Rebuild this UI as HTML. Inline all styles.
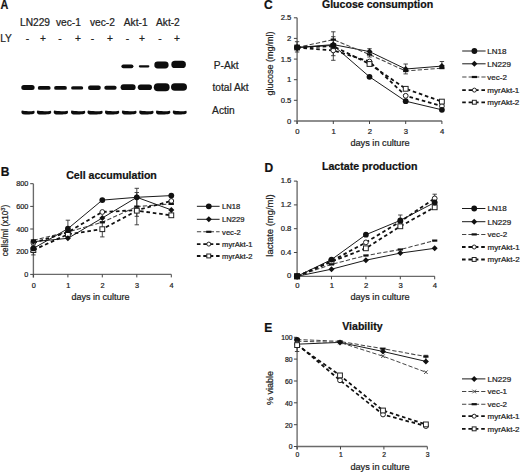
<!DOCTYPE html><html><head><meta charset="utf-8"><style>html,body{margin:0;padding:0;background:#fff;}svg{display:block;}text{fill:#222;stroke:#222;stroke-width:.22px}text.b{font-weight:bold;fill:#111;stroke:#111}text.e{text-anchor:end}text.m{text-anchor:middle}</style></head><body>
<svg width="520" height="472" viewBox="0 0 520 472" font-family="Liberation Sans">
<defs><filter id="bl" x="-20%" y="-50%" width="140%" height="200%"><feGaussianBlur stdDeviation="0.45"/></filter></defs>
<rect width="520" height="472" fill="#fff"/>
<text x="0.6" y="8.7" font-size="12.0" class="b" transform="scale(0.9,1)">A</text>
<text x="20.0" y="25.7" font-size="10.2">LN229</text>
<text x="56.0" y="25.7" font-size="10.2">vec-1</text>
<text x="90.0" y="25.7" font-size="10.2">vec-2</text>
<text x="123.8" y="25.7" font-size="10.2">Akt-1</text>
<text x="156.0" y="25.7" font-size="10.2">Akt-2</text>
<text x="0.2" y="42.0" font-size="10.2">LY</text>
<text x="27.5" y="41.6" font-size="10.2" class="m">-</text>
<text x="43.0" y="41.6" font-size="10.2" class="m">+</text>
<text x="60.0" y="41.6" font-size="10.2" class="m">-</text>
<text x="78.0" y="41.6" font-size="10.2" class="m">+</text>
<text x="92.5" y="41.6" font-size="10.2" class="m">-</text>
<text x="110.0" y="41.6" font-size="10.2" class="m">+</text>
<text x="127.5" y="41.6" font-size="10.2" class="m">-</text>
<text x="142.0" y="41.6" font-size="10.2" class="m">+</text>
<text x="160.0" y="41.6" font-size="10.2" class="m">-</text>
<text x="177.0" y="41.6" font-size="10.2" class="m">+</text>
<text x="213.8" y="68.8" font-size="10.2">P-Akt</text>
<text x="212.4" y="90.8" font-size="10.2">total Akt</text>
<text x="212.1" y="113.6" font-size="10.2">Actin</text>
<g filter="url(#bl)" fill="#0d0d0d">
<rect x="21.3" y="85.1" width="13.3" height="5.0" rx="2.5"/>
<rect x="37.8" y="86.0" width="12.8" height="3.8" rx="1.9"/>
<rect x="54.1" y="86.0" width="12.8" height="3.8" rx="1.9"/>
<rect x="71.1" y="86.2" width="12.1" height="3.4" rx="1.7"/>
<rect x="88.0" y="85.5" width="12.8" height="4.5" rx="2.2"/>
<rect x="104.3" y="85.8" width="12.3" height="4.0" rx="2.0"/>
<rect x="120.6" y="84.2" width="15.0" height="5.9" rx="3.0"/>
<rect x="137.8" y="84.5" width="14.2" height="5.6" rx="2.8"/>
<rect x="153.8" y="83.2" width="15.8" height="8.0" rx="4.0"/>
<rect x="171.0" y="83.2" width="16.0" height="7.6" rx="3.8"/>
<rect x="121.4" y="64.4" width="12.0" height="3.8" rx="1.9"/>
<rect x="138.8" y="65.2" width="10.6" height="2.2" rx="1.1"/>
<rect x="154.3" y="61.6" width="14.3" height="6.8" rx="3.4"/>
<rect x="171.3" y="60.7" width="14.6" height="7.4" rx="3.7"/>
<path d="M21.9 110.6 C24.6 111.4 31.4 111.4 34.1 110.7 C35.0 111.6 34.8 113.8 33.2 114.1 C30.4 114.7 25.6 114.7 22.8 114.2 C21.2 113.8 21.0 111.6 21.9 110.6 Z"/>
<path d="M37.4 110.6 C40.1 111.4 48.0 111.4 50.7 110.7 C51.6 111.6 51.4 113.8 49.8 114.1 C47.0 114.7 41.1 114.7 38.3 114.2 C36.7 113.8 36.5 111.6 37.4 110.6 Z"/>
<path d="M54.2 110.6 C56.9 111.4 64.8 111.4 67.5 110.7 C68.4 111.6 68.2 113.8 66.6 114.1 C63.8 114.7 57.9 114.7 55.1 114.2 C53.5 113.8 53.3 111.6 54.2 110.6 Z"/>
<path d="M71.5 110.6 C74.2 111.4 82.0 111.4 84.7 110.7 C85.6 111.6 85.4 113.8 83.8 114.1 C81.0 114.7 75.2 114.7 72.4 114.2 C70.8 113.8 70.6 111.6 71.5 110.6 Z"/>
<path d="M88.0 110.6 C90.7 111.4 99.4 111.4 102.1 110.7 C103.0 111.6 102.8 113.8 101.2 114.1 C98.4 114.7 91.7 114.7 88.9 114.2 C87.3 113.8 87.1 111.6 88.0 110.6 Z"/>
<path d="M105.5 110.6 C108.2 111.4 116.0 111.4 118.7 110.7 C119.6 111.6 119.4 113.8 117.8 114.1 C115.0 114.7 109.2 114.7 106.4 114.2 C104.8 113.8 104.6 111.6 105.5 110.6 Z"/>
<path d="M122.4 110.6 C125.1 111.4 133.3 111.4 136.0 110.7 C136.9 111.6 136.7 113.8 135.1 114.1 C132.3 114.7 126.1 114.7 123.3 114.2 C121.7 113.8 121.5 111.6 122.4 110.6 Z"/>
<path d="M139.7 110.6 C142.4 111.4 150.3 111.4 153.0 110.7 C153.9 111.6 153.7 113.8 152.1 114.1 C149.3 114.7 143.4 114.7 140.6 114.2 C139.0 113.8 138.8 111.6 139.7 110.6 Z"/>
<path d="M156.5 110.6 C159.2 111.4 167.1 111.4 169.8 110.7 C170.7 111.6 170.5 113.8 168.9 114.1 C166.1 114.7 160.2 114.7 157.4 114.2 C155.8 113.8 155.6 111.6 156.5 110.6 Z"/>
<path d="M173.3 110.6 C176.0 111.4 183.5 111.4 186.2 110.7 C187.1 111.6 186.9 113.8 185.3 114.1 C182.5 114.7 177.0 114.7 174.2 114.2 C172.6 113.8 172.4 111.6 173.3 110.6 Z"/>
</g>
<path d="M33.4 183.7L33.4 277.4M33.4 274.4L171.3 274.4" stroke="#6a6a6a" stroke-width="1.35" fill="none"/>
<path d="M30.2 274.4L33.4 274.4" stroke="#444" stroke-width="1"/>
<text x="28.4" y="276.9" font-size="7.3" class="e">0</text>
<path d="M30.2 251.7L33.4 251.7" stroke="#444" stroke-width="1"/>
<text x="28.4" y="254.2" font-size="7.3" class="e">200</text>
<path d="M30.2 229.0L33.4 229.0" stroke="#444" stroke-width="1"/>
<text x="28.4" y="231.5" font-size="7.3" class="e">400</text>
<path d="M30.2 206.4L33.4 206.4" stroke="#444" stroke-width="1"/>
<text x="28.4" y="208.9" font-size="7.3" class="e">600</text>
<path d="M30.2 183.7L33.4 183.7" stroke="#444" stroke-width="1"/>
<text x="28.4" y="186.2" font-size="7.3" class="e">800</text>
<path d="M33.4 274.4L33.4 277.4" stroke="#444" stroke-width="1"/>
<text x="33.7" y="287.7" font-size="7.3" class="m">0</text>
<path d="M67.9 274.4L67.9 277.4" stroke="#444" stroke-width="1"/>
<text x="68.2" y="287.7" font-size="7.3" class="m">1</text>
<path d="M102.3 274.4L102.3 277.4" stroke="#444" stroke-width="1"/>
<text x="102.6" y="287.7" font-size="7.3" class="m">2</text>
<path d="M136.8 274.4L136.8 277.4" stroke="#444" stroke-width="1"/>
<text x="137.1" y="287.7" font-size="7.3" class="m">3</text>
<path d="M171.3 274.4L171.3 277.4" stroke="#444" stroke-width="1"/>
<text x="171.6" y="287.7" font-size="7.3" class="m">4</text>
<text x="71.6" y="300.2" font-size="9.0">days in culture</text>
<text transform="translate(7.7,230.5) rotate(-90)" font-size="8.2" text-anchor="middle" fill="#222">cells/ml (x10<tspan font-size="5.5" dy="-3">3</tspan><tspan dy="3">)</tspan></text>
<text x="66.2" y="179.3" font-size="10.6" class="b">Cell accumulation</text>
<text x="0.8" y="176.0" font-size="12.0" class="b">B</text>
<path d="M33.4 246.0L33.4 254.9M31.2 246.0L35.6 246.0M31.2 254.9L35.6 254.9" stroke="#333" stroke-width="0.9" fill="none"/>
<path d="M67.9 220.2L67.9 237.0M65.7 220.2L70.1 220.2M65.7 237.0L70.1 237.0" stroke="#333" stroke-width="0.9" fill="none"/>
<path d="M102.3 222.8L102.3 236.9M100.1 222.8L104.5 222.8M100.1 236.9L104.5 236.9" stroke="#333" stroke-width="0.9" fill="none"/>
<path d="M136.8 188.3L136.8 224.8M134.6 188.3L139.0 188.3M134.6 224.8L139.0 224.8" stroke="#333" stroke-width="0.9" fill="none"/>
<path d="M136.8 192.5L136.8 216.3M134.6 192.5L139.0 192.5M134.6 216.3L139.0 216.3" stroke="#333" stroke-width="0.9" fill="none"/>
<path d="M33.4 248.4L67.9 228.7L102.3 200.1L136.8 197.3L171.3 195.6" fill="none" stroke="#1a1a1a" stroke-width="1.0"/>
<path d="M33.4 241.7L67.9 238.3L102.3 218.0L136.8 197.3L171.3 209.9" fill="none" stroke="#1a1a1a" stroke-width="1.0"/>
<path d="M33.4 240.4L67.9 231.9L102.3 222.2L136.8 206.6L171.3 203.9" fill="none" stroke="#444" stroke-width="1.05" stroke-dasharray="4.3,2.1"/>
<path d="M33.4 242.9L67.9 232.2L102.3 212.0L136.8 210.2L171.3 201.0" fill="none" stroke="#111" stroke-width="1.8" stroke-dasharray="3.6,2.8"/>
<path d="M33.4 250.1L67.9 234.3L102.3 229.2L136.8 210.7L171.3 215.3" fill="none" stroke="#111" stroke-width="1.8" stroke-dasharray="3.6,2.8"/>
<circle cx="33.4" cy="242.9" r="2.4" fill="#fff" stroke="#222" stroke-width="1"/>
<circle cx="67.9" cy="232.2" r="2.4" fill="#fff" stroke="#222" stroke-width="1"/>
<circle cx="102.3" cy="212.0" r="2.4" fill="#fff" stroke="#222" stroke-width="1"/>
<circle cx="136.8" cy="210.2" r="2.4" fill="#fff" stroke="#222" stroke-width="1"/>
<circle cx="171.3" cy="201.0" r="2.4" fill="#fff" stroke="#222" stroke-width="1"/>
<rect x="31.0" y="247.7" width="4.8" height="4.8" fill="#fff" stroke="#222" stroke-width="1"/>
<rect x="65.5" y="231.9" width="4.8" height="4.8" fill="#fff" stroke="#222" stroke-width="1"/>
<rect x="99.9" y="226.8" width="4.8" height="4.8" fill="#fff" stroke="#222" stroke-width="1"/>
<rect x="134.4" y="208.3" width="4.8" height="4.8" fill="#fff" stroke="#222" stroke-width="1"/>
<rect x="168.9" y="212.9" width="4.8" height="4.8" fill="#fff" stroke="#222" stroke-width="1"/>
<rect x="30.8" y="239.3" width="5.2" height="2.2" fill="#111"/>
<rect x="65.3" y="230.8" width="5.2" height="2.2" fill="#111"/>
<rect x="99.7" y="221.1" width="5.2" height="2.2" fill="#111"/>
<rect x="134.2" y="205.5" width="5.2" height="2.2" fill="#111"/>
<rect x="168.7" y="202.8" width="5.2" height="2.2" fill="#111"/>
<path d="M30.4 241.7L33.4 238.7L36.4 241.7L33.4 244.7Z" fill="#111"/>
<path d="M64.9 238.3L67.9 235.3L70.9 238.3L67.9 241.3Z" fill="#111"/>
<path d="M99.3 218.0L102.3 215.0L105.3 218.0L102.3 221.0Z" fill="#111"/>
<path d="M133.8 197.3L136.8 194.3L139.8 197.3L136.8 200.3Z" fill="#111"/>
<path d="M168.3 209.9L171.3 206.9L174.3 209.9L171.3 212.9Z" fill="#111"/>
<circle cx="33.4" cy="248.4" r="2.9" fill="#111"/>
<circle cx="67.9" cy="228.7" r="2.9" fill="#111"/>
<circle cx="102.3" cy="200.1" r="2.9" fill="#111"/>
<circle cx="136.8" cy="197.3" r="2.9" fill="#111"/>
<circle cx="171.3" cy="195.6" r="2.9" fill="#111"/>
<path d="M196.9 206.3L219.6 206.3" fill="none" stroke="#1a1a1a" stroke-width="1.0"/>
<circle cx="208.8" cy="206.3" r="2.9" fill="#111"/>
<text x="222.1" y="209.1" font-size="7.6">LN18</text>
<path d="M196.9 219.3L219.6 219.3" fill="none" stroke="#1a1a1a" stroke-width="1.0"/>
<path d="M205.8 219.3L208.8 216.3L211.8 219.3L208.8 222.3Z" fill="#111"/>
<text x="222.1" y="222.1" font-size="7.6">LN229</text>
<path d="M196.9 231.8L219.6 231.8" fill="none" stroke="#444" stroke-width="1.05" stroke-dasharray="4.3,2.1"/>
<rect x="206.2" y="230.7" width="5.2" height="2.2" fill="#111"/>
<text x="222.1" y="234.6" font-size="7.6">vec-2</text>
<path d="M196.9 244.1L219.6 244.1" fill="none" stroke="#111" stroke-width="1.8" stroke-dasharray="3.6,2.8"/>
<circle cx="208.8" cy="244.1" r="2.0" fill="#fff" stroke="#222" stroke-width="1"/>
<text x="222.1" y="246.9" font-size="7.6">myrAkt-1</text>
<path d="M196.9 256.0L219.6 256.0" fill="none" stroke="#111" stroke-width="1.8" stroke-dasharray="3.6,2.8"/>
<rect x="206.8" y="254.0" width="3.9" height="3.9" fill="#fff" stroke="#222" stroke-width="1"/>
<text x="222.1" y="258.8" font-size="7.6">myrAkt-2</text>
<path d="M297.1 17.8L297.1 124.0M297.1 121.0L441.9 121.0" stroke="#6a6a6a" stroke-width="1.35" fill="none"/>
<path d="M293.9 121.0L297.1 121.0" stroke="#444" stroke-width="1"/>
<text x="291.4" y="123.6" font-size="7.7" class="e">0</text>
<path d="M293.9 100.3L297.1 100.3" stroke="#444" stroke-width="1"/>
<text x="291.4" y="102.9" font-size="7.7" class="e">0.5</text>
<path d="M293.9 79.7L297.1 79.7" stroke="#444" stroke-width="1"/>
<text x="291.4" y="82.3" font-size="7.7" class="e">1</text>
<path d="M293.9 59.1L297.1 59.1" stroke="#444" stroke-width="1"/>
<text x="291.4" y="61.7" font-size="7.7" class="e">1.5</text>
<path d="M293.9 38.4L297.1 38.4" stroke="#444" stroke-width="1"/>
<text x="291.4" y="41.0" font-size="7.7" class="e">2</text>
<path d="M293.9 17.8L297.1 17.8" stroke="#444" stroke-width="1"/>
<text x="291.4" y="20.4" font-size="7.7" class="e">2.5</text>
<path d="M297.1 121.0L297.1 124.0" stroke="#444" stroke-width="1"/>
<text x="297.4" y="133.7" font-size="7.7" class="m">0</text>
<path d="M333.3 121.0L333.3 124.0" stroke="#444" stroke-width="1"/>
<text x="333.6" y="133.7" font-size="7.7" class="m">1</text>
<path d="M369.5 121.0L369.5 124.0" stroke="#444" stroke-width="1"/>
<text x="369.8" y="133.7" font-size="7.7" class="m">2</text>
<path d="M405.7 121.0L405.7 124.0" stroke="#444" stroke-width="1"/>
<text x="406.0" y="133.7" font-size="7.7" class="m">3</text>
<path d="M441.9 121.0L441.9 124.0" stroke="#444" stroke-width="1"/>
<text x="442.2" y="133.7" font-size="7.7" class="m">4</text>
<text x="350.4" y="146.2" font-size="9.2">days in culture</text>
<text transform="translate(272.8,63.4) rotate(-90)" font-size="9.0" text-anchor="middle" fill="#222">glucose (mg/ml)</text>
<text x="321.9" y="8.0" font-size="10.6" class="b">Glucose consumption</text>
<text x="264.0" y="9.2" font-size="12.0" class="b">C</text>
<path d="M297.1 41.7L297.1 52.0M294.9 41.7L299.3 41.7M294.9 52.0L299.3 52.0" stroke="#333" stroke-width="0.9" fill="none"/>
<path d="M333.3 31.8L333.3 60.3M331.1 31.8L335.5 31.8M331.1 60.3L335.5 60.3" stroke="#333" stroke-width="0.9" fill="none"/>
<path d="M333.3 36.7L333.3 55.7M331.1 36.7L335.5 36.7M331.1 55.7L335.5 55.7" stroke="#333" stroke-width="0.9" fill="none"/>
<path d="M369.5 48.7L369.5 57.0M367.3 48.7L371.7 48.7M367.3 57.0L371.7 57.0" stroke="#333" stroke-width="0.9" fill="none"/>
<path d="M405.7 64.0L405.7 73.9M403.5 64.0L407.9 64.0M403.5 73.9L407.9 73.9" stroke="#333" stroke-width="0.9" fill="none"/>
<path d="M441.9 61.5L441.9 68.5M439.7 61.5L444.1 61.5M439.7 68.5L444.1 68.5" stroke="#333" stroke-width="0.9" fill="none"/>
<path d="M297.1 47.5L333.3 45.4L369.5 76.8L405.7 101.2L441.9 109.8" fill="none" stroke="#1a1a1a" stroke-width="1.0"/>
<path d="M297.1 47.5L333.3 44.6L369.5 51.6L405.7 69.0L441.9 66.1" fill="none" stroke="#1a1a1a" stroke-width="1.0"/>
<path d="M297.1 47.5L333.3 39.6L369.5 54.5L405.7 71.0L441.9 68.1" fill="none" stroke="#444" stroke-width="1.05" stroke-dasharray="4.3,2.1"/>
<path d="M297.1 47.5L333.3 50.4L369.5 61.5L405.7 95.8L441.9 106.1" fill="none" stroke="#111" stroke-width="1.8" stroke-dasharray="3.6,2.8"/>
<path d="M297.1 47.5L333.3 46.2L369.5 64.0L405.7 88.8L441.9 101.6" fill="none" stroke="#111" stroke-width="1.8" stroke-dasharray="3.6,2.8"/>
<circle cx="297.1" cy="47.5" r="2.4" fill="#fff" stroke="#222" stroke-width="1"/>
<circle cx="333.3" cy="50.4" r="2.4" fill="#fff" stroke="#222" stroke-width="1"/>
<circle cx="369.5" cy="61.5" r="2.4" fill="#fff" stroke="#222" stroke-width="1"/>
<circle cx="405.7" cy="95.8" r="2.4" fill="#fff" stroke="#222" stroke-width="1"/>
<circle cx="441.9" cy="106.1" r="2.4" fill="#fff" stroke="#222" stroke-width="1"/>
<rect x="294.7" y="45.1" width="4.8" height="4.8" fill="#fff" stroke="#222" stroke-width="1"/>
<rect x="330.9" y="43.8" width="4.8" height="4.8" fill="#fff" stroke="#222" stroke-width="1"/>
<rect x="367.1" y="61.6" width="4.8" height="4.8" fill="#fff" stroke="#222" stroke-width="1"/>
<rect x="403.3" y="86.4" width="4.8" height="4.8" fill="#fff" stroke="#222" stroke-width="1"/>
<rect x="439.5" y="99.2" width="4.8" height="4.8" fill="#fff" stroke="#222" stroke-width="1"/>
<rect x="294.5" y="46.4" width="5.2" height="2.2" fill="#111"/>
<rect x="330.7" y="38.5" width="5.2" height="2.2" fill="#111"/>
<rect x="366.9" y="53.4" width="5.2" height="2.2" fill="#111"/>
<rect x="403.1" y="69.9" width="5.2" height="2.2" fill="#111"/>
<rect x="439.3" y="67.0" width="5.2" height="2.2" fill="#111"/>
<path d="M294.1 47.5L297.1 44.5L300.1 47.5L297.1 50.5Z" fill="#111"/>
<path d="M330.3 44.6L333.3 41.6L336.3 44.6L333.3 47.6Z" fill="#111"/>
<path d="M366.5 51.6L369.5 48.6L372.5 51.6L369.5 54.6Z" fill="#111"/>
<path d="M402.7 69.0L405.7 66.0L408.7 69.0L405.7 72.0Z" fill="#111"/>
<path d="M438.9 66.1L441.9 63.1L444.9 66.1L441.9 69.1Z" fill="#111"/>
<circle cx="297.1" cy="47.5" r="2.9" fill="#111"/>
<circle cx="333.3" cy="45.4" r="2.9" fill="#111"/>
<circle cx="369.5" cy="76.8" r="2.9" fill="#111"/>
<circle cx="405.7" cy="101.2" r="2.9" fill="#111"/>
<circle cx="441.9" cy="109.8" r="2.9" fill="#111"/>
<path d="M462.2 51.0L485.6 51.0" fill="none" stroke="#1a1a1a" stroke-width="1.0"/>
<circle cx="474.4" cy="51.0" r="2.9" fill="#111"/>
<text x="487.3" y="53.8" font-size="8.0">LN18</text>
<path d="M462.2 63.8L485.6 63.8" fill="none" stroke="#1a1a1a" stroke-width="1.0"/>
<path d="M471.4 63.8L474.4 60.8L477.4 63.8L474.4 66.8Z" fill="#111"/>
<text x="487.3" y="66.6" font-size="8.0">LN229</text>
<path d="M462.2 77.0L485.6 77.0" fill="none" stroke="#444" stroke-width="1.05" stroke-dasharray="4.3,2.1"/>
<rect x="471.8" y="75.9" width="5.2" height="2.2" fill="#111"/>
<text x="487.3" y="79.8" font-size="8.0">vec-2</text>
<path d="M462.2 90.1L485.6 90.1" fill="none" stroke="#111" stroke-width="1.8" stroke-dasharray="3.6,2.8"/>
<circle cx="474.4" cy="90.1" r="2.0" fill="#fff" stroke="#222" stroke-width="1"/>
<text x="487.3" y="92.9" font-size="8.0">myrAkt-1</text>
<path d="M462.2 102.3L485.6 102.3" fill="none" stroke="#111" stroke-width="1.8" stroke-dasharray="3.6,2.8"/>
<rect x="472.4" y="100.3" width="3.9" height="3.9" fill="#fff" stroke="#222" stroke-width="1"/>
<text x="487.3" y="105.1" font-size="8.0">myrAkt-2</text>
<path d="M297.1 181.1L297.1 279.3M297.1 276.3L434.7 276.3" stroke="#6a6a6a" stroke-width="1.35" fill="none"/>
<path d="M293.9 276.3L297.1 276.3" stroke="#444" stroke-width="1"/>
<text x="291.4" y="278.3" font-size="7.7" class="e">0</text>
<path d="M293.9 252.5L297.1 252.5" stroke="#444" stroke-width="1"/>
<text x="291.4" y="254.5" font-size="7.7" class="e">0.4</text>
<path d="M293.9 228.7L297.1 228.7" stroke="#444" stroke-width="1"/>
<text x="291.4" y="230.7" font-size="7.7" class="e">0.8</text>
<path d="M293.9 204.9L297.1 204.9" stroke="#444" stroke-width="1"/>
<text x="291.4" y="206.9" font-size="7.7" class="e">1.2</text>
<path d="M293.9 181.1L297.1 181.1" stroke="#444" stroke-width="1"/>
<text x="291.4" y="183.1" font-size="7.7" class="e">1.6</text>
<path d="M297.1 276.3L297.1 279.3" stroke="#444" stroke-width="1"/>
<text x="297.4" y="287.9" font-size="7.7" class="m">0</text>
<path d="M331.5 276.3L331.5 279.3" stroke="#444" stroke-width="1"/>
<text x="331.8" y="287.9" font-size="7.7" class="m">1</text>
<path d="M365.9 276.3L365.9 279.3" stroke="#444" stroke-width="1"/>
<text x="366.2" y="287.9" font-size="7.7" class="m">2</text>
<path d="M400.3 276.3L400.3 279.3" stroke="#444" stroke-width="1"/>
<text x="400.6" y="287.9" font-size="7.7" class="m">3</text>
<path d="M434.7 276.3L434.7 279.3" stroke="#444" stroke-width="1"/>
<text x="435.0" y="287.9" font-size="7.7" class="m">4</text>
<text x="350.4" y="300.2" font-size="9.2">days in culture</text>
<text transform="translate(272.9,225.5) rotate(-90)" font-size="9.45" text-anchor="middle" fill="#222">lactate (mg/ml)</text>
<text x="322.0" y="170.1" font-size="10.6" class="b">Lactate production</text>
<text x="264.6" y="171.5" font-size="12.0" class="b">D</text>
<path d="M400.3 215.0L400.3 225.7M398.1 215.0L402.5 215.0M398.1 225.7L402.5 225.7" stroke="#333" stroke-width="0.9" fill="none"/>
<path d="M434.7 194.2L434.7 202.5M432.5 194.2L436.9 194.2M432.5 202.5L436.9 202.5" stroke="#333" stroke-width="0.9" fill="none"/>
<path d="M297.1 276.3L331.5 259.6L365.9 234.7L400.3 220.4L434.7 202.5" fill="none" stroke="#1a1a1a" stroke-width="1.0"/>
<path d="M297.1 276.3L331.5 269.2L365.9 260.2L400.3 253.1L434.7 248.3" fill="none" stroke="#1a1a1a" stroke-width="1.0"/>
<path d="M297.1 276.3L331.5 264.4L365.9 255.5L400.3 249.5L434.7 240.6" fill="none" stroke="#444" stroke-width="1.05" stroke-dasharray="4.3,2.1"/>
<path d="M297.1 276.3L331.5 261.1L365.9 242.4L400.3 221.6L434.7 198.4" fill="none" stroke="#111" stroke-width="1.8" stroke-dasharray="3.6,2.8"/>
<path d="M297.1 276.3L331.5 261.7L365.9 248.3L400.3 226.3L434.7 207.3" fill="none" stroke="#111" stroke-width="1.8" stroke-dasharray="3.6,2.8"/>
<circle cx="297.1" cy="276.3" r="2.4" fill="#fff" stroke="#222" stroke-width="1"/>
<circle cx="331.5" cy="261.1" r="2.4" fill="#fff" stroke="#222" stroke-width="1"/>
<circle cx="365.9" cy="242.4" r="2.4" fill="#fff" stroke="#222" stroke-width="1"/>
<circle cx="400.3" cy="221.6" r="2.4" fill="#fff" stroke="#222" stroke-width="1"/>
<circle cx="434.7" cy="198.4" r="2.4" fill="#fff" stroke="#222" stroke-width="1"/>
<rect x="294.7" y="273.9" width="4.8" height="4.8" fill="#fff" stroke="#222" stroke-width="1"/>
<rect x="329.1" y="259.3" width="4.8" height="4.8" fill="#fff" stroke="#222" stroke-width="1"/>
<rect x="363.5" y="245.9" width="4.8" height="4.8" fill="#fff" stroke="#222" stroke-width="1"/>
<rect x="397.9" y="223.9" width="4.8" height="4.8" fill="#fff" stroke="#222" stroke-width="1"/>
<rect x="432.3" y="204.9" width="4.8" height="4.8" fill="#fff" stroke="#222" stroke-width="1"/>
<rect x="294.5" y="275.2" width="5.2" height="2.2" fill="#111"/>
<rect x="328.9" y="263.3" width="5.2" height="2.2" fill="#111"/>
<rect x="363.3" y="254.4" width="5.2" height="2.2" fill="#111"/>
<rect x="397.7" y="248.4" width="5.2" height="2.2" fill="#111"/>
<rect x="432.1" y="239.5" width="5.2" height="2.2" fill="#111"/>
<path d="M294.1 276.3L297.1 273.3L300.1 276.3L297.1 279.3Z" fill="#111"/>
<path d="M328.5 269.2L331.5 266.2L334.5 269.2L331.5 272.2Z" fill="#111"/>
<path d="M362.9 260.2L365.9 257.2L368.9 260.2L365.9 263.2Z" fill="#111"/>
<path d="M397.3 253.1L400.3 250.1L403.3 253.1L400.3 256.1Z" fill="#111"/>
<path d="M431.7 248.3L434.7 245.3L437.7 248.3L434.7 251.3Z" fill="#111"/>
<circle cx="297.1" cy="276.3" r="2.9" fill="#111"/>
<circle cx="331.5" cy="259.6" r="2.9" fill="#111"/>
<circle cx="365.9" cy="234.7" r="2.9" fill="#111"/>
<circle cx="400.3" cy="220.4" r="2.9" fill="#111"/>
<circle cx="434.7" cy="202.5" r="2.9" fill="#111"/>
<rect x="294.1" y="273.3" width="6.0" height="6.0" fill="#111"/>
<path d="M462.0 208.5L485.4 208.5" fill="none" stroke="#1a1a1a" stroke-width="1.0"/>
<circle cx="474.2" cy="208.5" r="2.9" fill="#111"/>
<text x="487.6" y="211.3" font-size="8.0">LN18</text>
<path d="M462.0 221.7L485.4 221.7" fill="none" stroke="#1a1a1a" stroke-width="1.0"/>
<path d="M471.2 221.7L474.2 218.7L477.2 221.7L474.2 224.7Z" fill="#111"/>
<text x="487.6" y="224.5" font-size="8.0">LN229</text>
<path d="M462.0 234.4L485.4 234.4" fill="none" stroke="#444" stroke-width="1.05" stroke-dasharray="4.3,2.1"/>
<rect x="471.6" y="233.3" width="5.2" height="2.2" fill="#111"/>
<text x="487.6" y="237.2" font-size="8.0">vec-2</text>
<path d="M462.0 247.0L485.4 247.0" fill="none" stroke="#111" stroke-width="1.8" stroke-dasharray="3.6,2.8"/>
<circle cx="474.2" cy="247.0" r="2.0" fill="#fff" stroke="#222" stroke-width="1"/>
<text x="487.6" y="249.8" font-size="8.0">myrAkt-1</text>
<path d="M462.0 259.5L485.4 259.5" fill="none" stroke="#111" stroke-width="1.8" stroke-dasharray="3.6,2.8"/>
<rect x="472.2" y="257.5" width="3.9" height="3.9" fill="#fff" stroke="#222" stroke-width="1"/>
<text x="487.6" y="262.3" font-size="8.0">myrAkt-2</text>
<path d="M297.1 337.3L297.1 449.5M297.1 446.5L427.3 446.5" stroke="#6a6a6a" stroke-width="1.35" fill="none"/>
<path d="M293.9 446.5L297.1 446.5" stroke="#444" stroke-width="1"/>
<text x="292.5" y="449.3" font-size="6.8" class="e">0</text>
<path d="M293.9 424.7L297.1 424.7" stroke="#444" stroke-width="1"/>
<text x="292.5" y="427.5" font-size="6.8" class="e">20</text>
<path d="M293.9 402.8L297.1 402.8" stroke="#444" stroke-width="1"/>
<text x="292.5" y="405.6" font-size="6.8" class="e">40</text>
<path d="M293.9 381.0L297.1 381.0" stroke="#444" stroke-width="1"/>
<text x="292.5" y="383.8" font-size="6.8" class="e">60</text>
<path d="M293.9 359.1L297.1 359.1" stroke="#444" stroke-width="1"/>
<text x="292.5" y="361.9" font-size="6.8" class="e">80</text>
<path d="M293.9 337.3L297.1 337.3" stroke="#444" stroke-width="1"/>
<text x="292.5" y="340.1" font-size="6.8" class="e">100</text>
<path d="M297.1 446.5L297.1 449.5" stroke="#444" stroke-width="1"/>
<text x="297.4" y="457.2" font-size="6.8" class="m">0</text>
<path d="M340.5 446.5L340.5 449.5" stroke="#444" stroke-width="1"/>
<text x="340.8" y="457.2" font-size="6.8" class="m">1</text>
<path d="M383.9 446.5L383.9 449.5" stroke="#444" stroke-width="1"/>
<text x="384.2" y="457.2" font-size="6.8" class="m">2</text>
<path d="M427.3 446.5L427.3 449.5" stroke="#444" stroke-width="1"/>
<text x="427.6" y="457.2" font-size="6.8" class="m">3</text>
<text x="350.4" y="469.5" font-size="9.2">days in culture</text>
<text transform="translate(273.1,388.0) rotate(-90)" font-size="9.0" text-anchor="middle" fill="#222">% viable</text>
<text x="342.2" y="329.8" font-size="10.6" class="b">Viability</text>
<text x="264.2" y="332.3" font-size="12.0" class="b">E</text>
<path d="M297.1 340.6L297.1 351.5M294.9 340.6L299.3 340.6M294.9 351.5L299.3 351.5" stroke="#333" stroke-width="0.9" fill="none"/>
<path d="M425.9 355.3L425.9 361.3M423.7 355.3L428.1 355.3M423.7 361.3L428.1 361.3" stroke="#333" stroke-width="0.9" fill="none"/>
<path d="M297.1 344.2L340.0 342.4L383.0 351.5L425.9 361.4" fill="none" stroke="#1a1a1a" stroke-width="1.0"/>
<path d="M297.1 341.2L340.0 342.5L383.0 356.2L425.9 372.2" fill="none" stroke="#444" stroke-width="1.0" stroke-dasharray="4.3,2.1"/>
<path d="M297.1 339.5L340.0 341.4L383.0 348.7L425.9 356.6" fill="none" stroke="#444" stroke-width="1.05" stroke-dasharray="4.3,2.1"/>
<path d="M297.1 344.0L340.0 380.3L383.0 414.5L425.9 426.1" fill="none" stroke="#111" stroke-width="1.8" stroke-dasharray="3.6,2.8"/>
<path d="M297.1 345.1L340.0 375.4L383.0 410.5L425.9 424.4" fill="none" stroke="#111" stroke-width="1.8" stroke-dasharray="3.6,2.8"/>
<circle cx="297.1" cy="339.8" r="2.9" fill="#111"/>
<path d="M295.3 339.4L298.9 343.0M295.3 343.0L298.9 339.4" stroke="#333" stroke-width="0.9"/>
<path d="M338.2 340.7L341.8 344.3M338.2 344.3L341.8 340.7" stroke="#333" stroke-width="0.9"/>
<path d="M381.2 354.4L384.8 358.0M381.2 358.0L384.8 354.4" stroke="#333" stroke-width="0.9"/>
<path d="M424.1 370.4L427.7 374.0M424.1 374.0L427.7 370.4" stroke="#333" stroke-width="0.9"/>
<rect x="294.5" y="338.4" width="5.2" height="2.2" fill="#111"/>
<rect x="337.4" y="340.3" width="5.2" height="2.2" fill="#111"/>
<rect x="380.4" y="347.6" width="5.2" height="2.2" fill="#111"/>
<rect x="423.3" y="355.5" width="5.2" height="2.2" fill="#111"/>
<path d="M294.1 344.2L297.1 341.2L300.1 344.2L297.1 347.2Z" fill="#111"/>
<path d="M337.0 342.4L340.0 339.4L343.0 342.4L340.0 345.4Z" fill="#111"/>
<path d="M380.0 351.5L383.0 348.5L386.0 351.5L383.0 354.5Z" fill="#111"/>
<path d="M422.9 361.4L425.9 358.4L428.9 361.4L425.9 364.4Z" fill="#111"/>
<circle cx="297.1" cy="344.0" r="2.4" fill="#fff" stroke="#222" stroke-width="1"/>
<circle cx="340.0" cy="380.3" r="2.4" fill="#fff" stroke="#222" stroke-width="1"/>
<circle cx="383.0" cy="414.5" r="2.4" fill="#fff" stroke="#222" stroke-width="1"/>
<circle cx="425.9" cy="426.1" r="2.4" fill="#fff" stroke="#222" stroke-width="1"/>
<rect x="294.7" y="342.7" width="4.8" height="4.8" fill="#fff" stroke="#222" stroke-width="1"/>
<rect x="337.6" y="373.0" width="4.8" height="4.8" fill="#fff" stroke="#222" stroke-width="1"/>
<rect x="380.6" y="408.1" width="4.8" height="4.8" fill="#fff" stroke="#222" stroke-width="1"/>
<rect x="423.5" y="422.0" width="4.8" height="4.8" fill="#fff" stroke="#222" stroke-width="1"/>
<path d="M462.0 378.9L485.4 378.9" fill="none" stroke="#1a1a1a" stroke-width="1.0"/>
<path d="M471.2 378.9L474.2 375.9L477.2 378.9L474.2 381.9Z" fill="#111"/>
<text x="487.5" y="381.7" font-size="8.0">LN229</text>
<path d="M462.0 391.5L485.4 391.5" fill="none" stroke="#444" stroke-width="1.0" stroke-dasharray="4.3,2.1"/>
<path d="M472.4 389.7L476.0 393.3M472.4 393.3L476.0 389.7" stroke="#333" stroke-width="0.9"/>
<text x="487.5" y="394.3" font-size="8.0">vec-1</text>
<path d="M462.0 404.2L485.4 404.2" fill="none" stroke="#444" stroke-width="1.05" stroke-dasharray="4.3,2.1"/>
<rect x="471.6" y="403.1" width="5.2" height="2.2" fill="#111"/>
<text x="487.5" y="407.0" font-size="8.0">vec-2</text>
<path d="M462.0 416.2L485.4 416.2" fill="none" stroke="#111" stroke-width="1.8" stroke-dasharray="3.6,2.8"/>
<circle cx="474.2" cy="416.2" r="2.0" fill="#fff" stroke="#222" stroke-width="1"/>
<text x="487.5" y="419.0" font-size="8.0">myrAkt-1</text>
<path d="M462.0 428.9L485.4 428.9" fill="none" stroke="#111" stroke-width="1.8" stroke-dasharray="3.6,2.8"/>
<rect x="472.2" y="426.9" width="3.9" height="3.9" fill="#fff" stroke="#222" stroke-width="1"/>
<text x="487.5" y="431.7" font-size="8.0">myrAkt-2</text>
</svg></body></html>
